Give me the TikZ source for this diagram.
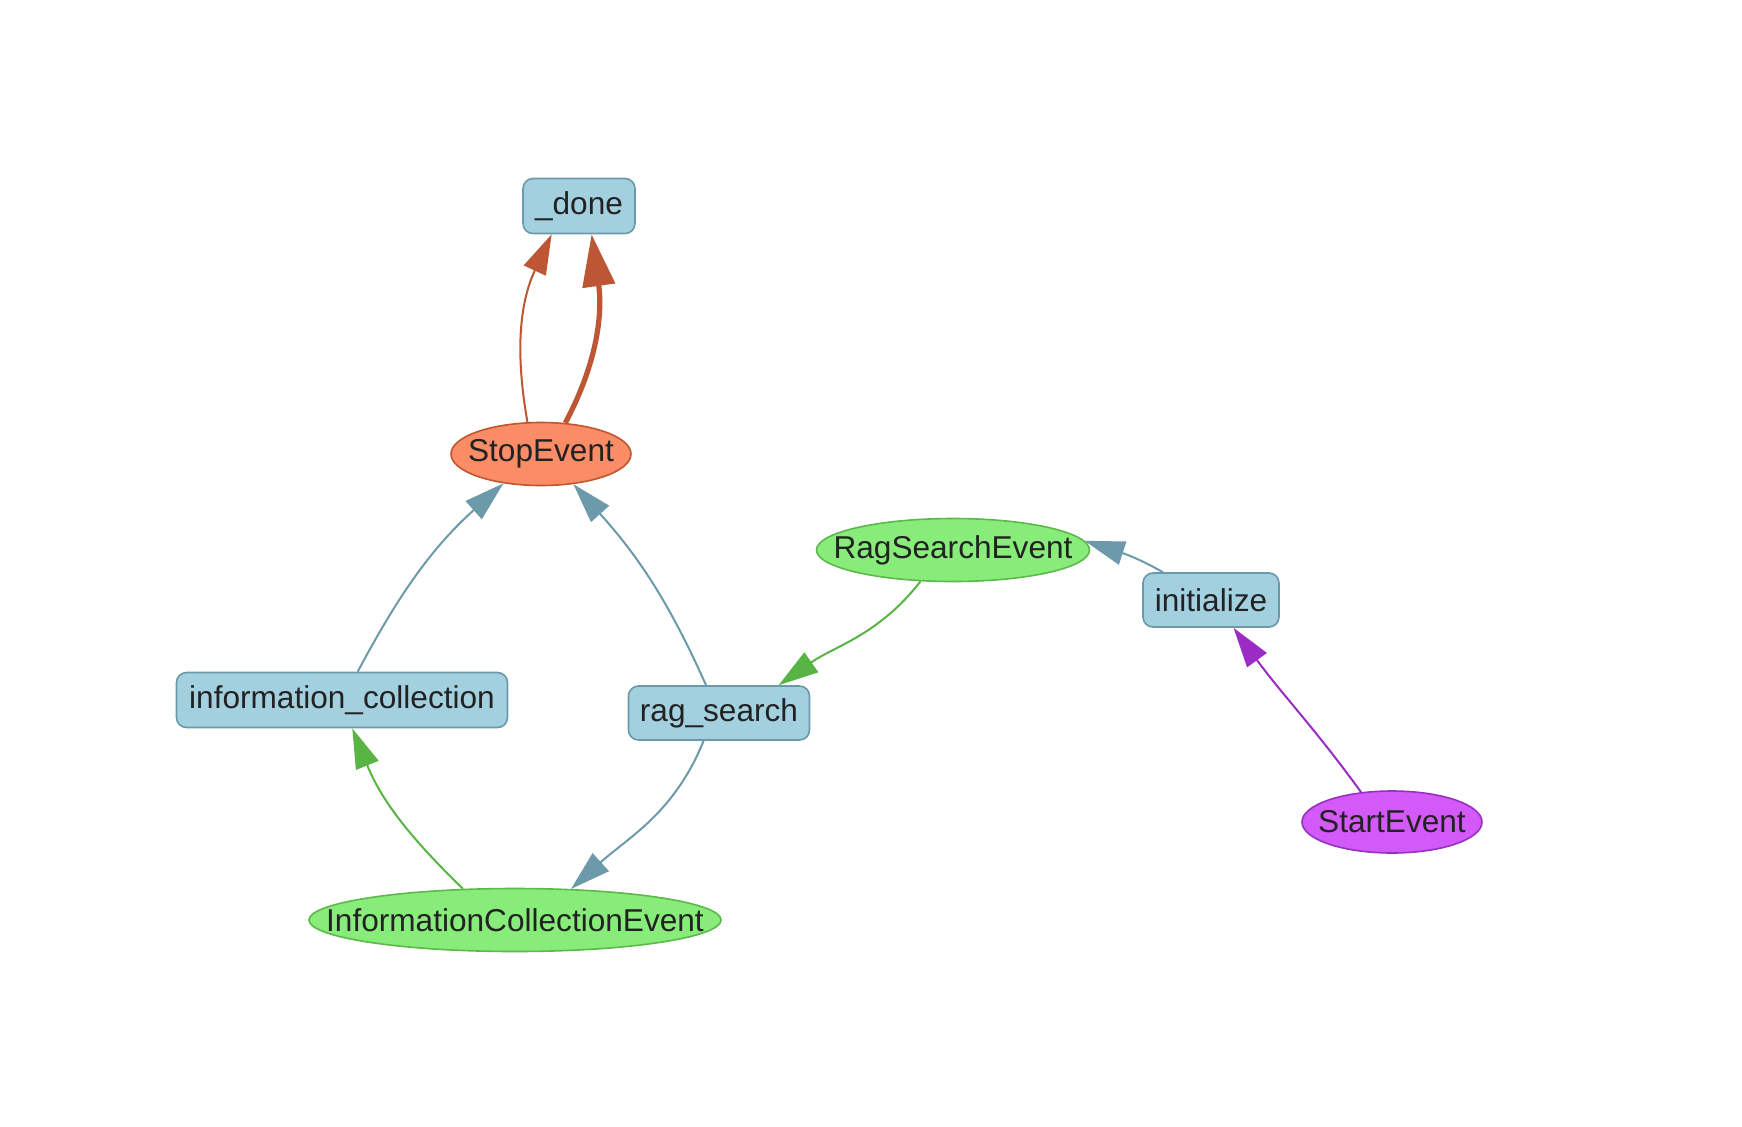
\documentclass[tikz,border=0pt]{standalone}
\usepackage{fontspec}
\setmainfont{Liberation Sans}
\usetikzlibrary{shapes.geometric,arrows.meta}
\definecolor{boxfill}{HTML}{A3D0DF}
\definecolor{boxline}{HTML}{6A9AAA}
\definecolor{edgeblue}{HTML}{6C9AAB}
\definecolor{evfill}{HTML}{88EC7A}
\definecolor{evline}{HTML}{5BB94A}
\definecolor{edgegreen}{HTML}{58B444}
\definecolor{stopfill}{HTML}{FA8D65}
\definecolor{stopline}{HTML}{C0552F}
\definecolor{edgeorange}{HTML}{BD5634}
\definecolor{startfill}{HTML}{D35AF8}
\definecolor{startline}{HTML}{9630C0}
\definecolor{edgepurple}{HTML}{9A2CC4}
\definecolor{txt}{HTML}{222222}
\newcommand{\zw}[1]{\makebox[0pt]{#1}}
\tikzset{
  stepbox/.style={draw=boxline, fill=boxfill, rounded corners=5pt, line width=0.8pt,
    inner sep=0pt, minimum height=27.5pt, text=txt},
  evnode/.style={ellipse, draw=evline, fill=evfill, line width=0.8pt, inner sep=0pt,
    minimum height=31.5pt, text=txt},
  stopnode/.style={ellipse, draw=stopline, fill=stopfill, line width=0.8pt, inner sep=0pt,
    minimum height=31.5pt, text=txt},
  startnode/.style={ellipse, draw=startline, fill=startfill, line width=0.8pt, inner sep=0pt,
    minimum height=31pt, text=txt},
  conn/.style={line width=1pt, -{Triangle[length=20pt,width=12pt]}},
  thickconn/.style={line width=2.6pt, -{Triangle[length=26pt,width=16pt]}},
}
\begin{document}
\begin{tikzpicture}[x=0.5pt,y=-0.5pt, font=\fontsize{15.8}{19}\selectfont]
\useasboundingbox (0,0) rectangle (1742,1126);
\fill[white] (0,0) rectangle (1742,1126);

\node[stepbox, minimum width=56pt] (done) at (579,206) {\_done};
\node[stopnode, minimum width=90pt] (stop) at (541,454) {\zw{StopEvent}};
\node[stepbox, minimum width=165.5pt] (ic) at (342,700) {information\_collection};
\node[stepbox, minimum width=90.5pt, minimum height=27pt] (rs) at (719,713) {rag\_search};
\node[evnode, minimum width=206pt] (ice) at (515,920) {\zw{InformationCollectionEvent}};
\node[evnode, minimum width=136.5pt] (rse) at (953,550) {\zw{RagSearchEvent}};
\node[stepbox, minimum width=68pt, minimum height=27pt] (init) at (1211,600) {initialize};
\node[startnode, minimum width=90pt] (se) at (1392,822) {\zw{StartEvent}};

% StopEvent -> _done
\draw[conn, edgeorange] (stop.113) to[out=100, in=245] (done.226);
\draw[thickconn, edgeorange] (stop.52) to[out=62, in=278] (done.294);
% steps -> StopEvent
\draw[conn, edgeblue] (ic.61) to[out=62, in=222] (stop.218);
\draw[conn, edgeblue] (rs.115) to[out=114, in=312] (stop.317);
% RagSearchEvent -> rag_search
\draw[conn, edgegreen] (rse.224) to[out=232, in=35] (rs.25);
% initialize -> RagSearchEvent
\draw[conn, edgeblue] (init.150) to[out=150, in=-18] (rse.4);
% StartEvent -> initialize
\draw[conn, edgepurple] (se.136) to[out=126, in=306] (init.309);
% rag_search -> InformationCollectionEvent
\draw[conn, edgeblue] (rs.241) to[out=248, in=42] (ice.29);
% InformationCollectionEvent -> information_collection
\draw[conn, edgegreen] (ice.149) to[out=136, in=292] (ic.290);
\end{tikzpicture}
\end{document}
